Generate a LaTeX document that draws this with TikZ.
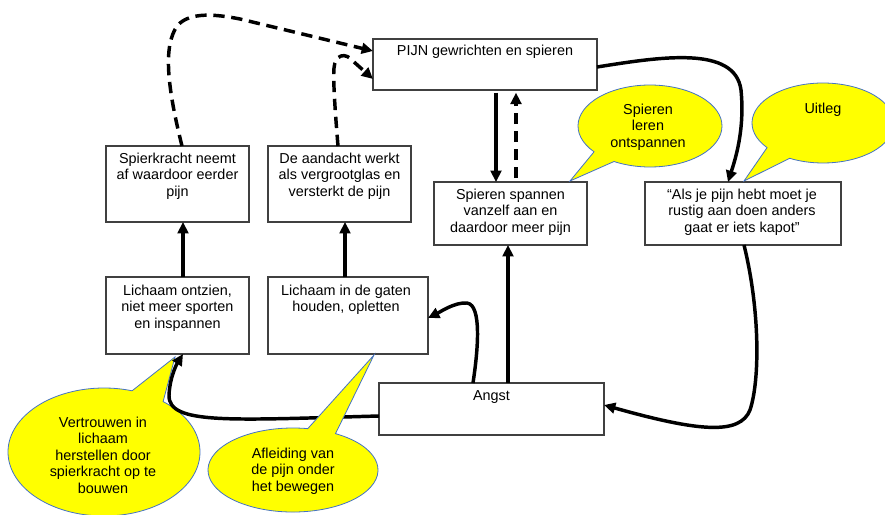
\documentclass[tikz,border=0pt]{standalone}
\usepackage{fontspec}
\setmainfont{Liberation Sans}
\usetikzlibrary{arrows.meta,calc}
\definecolor{callfill}{RGB}{255,255,0}
\definecolor{callline}{RGB}{68,114,196}
\definecolor{boxline}{RGB}{64,64,64}
\begin{document}
\begin{tikzpicture}[x=0.75pt,y=0.75pt,
  box/.style={draw=boxline,line width=0.9pt,fill=white,inner sep=0pt,outer sep=0pt},
  txt/.style={align=center,inner sep=0pt,font=\fontsize{10.8}{12.4}\selectfont},
  conn/.style={line width=2.6pt,-{Triangle[length=8.5pt,width=8pt]}},
  dconn/.style={conn,dash pattern=on 8.5pt off 5pt},
  callout/.style={fill=callfill,draw=callline,line width=0.6pt,line join=miter}]
\useasboundingbox (0,0) rectangle (885,-514);

% boxes
\node[box,minimum width=168pt,minimum height=38.25pt] (pijn) at (485,-64.5) {};
\node[box,minimum width=107.25pt,minimum height=57pt] (spk) at (177.5,-184) {};
\node[box,minimum width=107.25pt,minimum height=57pt] (aan) at (339.5,-184) {};
\node[box,minimum width=114.75pt,minimum height=47.25pt] (spa) at (510.5,-213.5) {};
\node[box,minimum width=147pt,minimum height=47.25pt] (als) at (743,-213.5) {};
\node[box,minimum width=107.25pt,minimum height=57.75pt] (ont) at (177.5,-315.5) {};
\node[box,minimum width=120pt,minimum height=57.75pt] (gat) at (348,-315.5) {};
\node[box,minimum width=168.75pt,minimum height=39pt] (angst) at (491.5,-409) {};

% callout Vertrouwen (behind connectors)
\coordinate (vc) at (104,-452);
\coordinate (vt) at (175,-357);
\draw[callout] ([shift={(73:72pt and 48pt)}]vc) -- (vt) -- ([shift={(52:72pt and 48pt)}]vc)
  arc[start angle=52,end angle=-287,x radius=72pt,y radius=48pt] -- cycle;

% connectors
\draw[conn,shorten <=2pt] ([xshift=8.25pt]pijn.south) -- ([xshift=8.25pt]pijn.south |- spa.north);
\draw[dconn,shorten <=3pt,shorten >=2pt] ([xshift=23.25pt]pijn.south |- spa.north) -- ([xshift=23.25pt]pijn.south);
\draw[conn] ([xshift=4.125pt]ont.north) -- ([xshift=4.125pt]ont.north |- spk.south);
\draw[conn] ([xshift=-2.25pt]gat.north) -- ([xshift=-2.25pt]gat.north |- aan.south);
\draw[conn] ([xshift=12.375pt]angst.north) -- ([xshift=12.375pt]angst.north |- spa.south);
\draw[dconn] ([xshift=3.375pt]spk.north) .. controls (168,-90) and (162,-45) .. (178,-25)
  .. controls (190,-12) and (215,-14) .. (240,-19) -- ([yshift=10.125pt]pijn.west);
\draw[dconn] ([xshift=-1.125pt]aan.north) .. controls (335,-110) and (333,-80) .. (334,-68)
  .. controls (335,-55) and (345,-51) .. (354,-62) -- ([yshift=-10.875pt]pijn.west);
\draw[conn] ([yshift=-1.875pt]pijn.east) .. controls (660,-57) and (735,-45) .. (741,-90)
  .. controls (745,-130) and (735,-160) .. ([xshift=-11.25pt]als.north);
\draw[conn] ([xshift=0.75pt]als.south) .. controls (760,-310) and (760,-380) .. (750,-410)
  .. controls (740,-435) and (700,-432) .. ([yshift=3pt]angst.east);
\draw[conn] ([xshift=-13.875pt]angst.north) .. controls (478,-350) and (482,-305) .. (467,-303)
  .. controls (455,-302) and (440,-312) .. ([yshift=-1.875pt]gat.east);
\draw[conn] ([yshift=-5.25pt]angst.west) .. controls (230,-420) and (168,-425) .. (169,-395)
  .. controls (170,-375) and (178,-362) .. ([xshift=4.125pt]ont.south);

% other callouts
\coordinate (ac) at (293,-470);
\coordinate (at) at (374,-355);
\draw[callout] ([shift={(80:63.75pt and 31.5pt)}]ac) -- (at) -- ([shift={(60:63.75pt and 31.5pt)}]ac)
  arc[start angle=60,end angle=-280,x radius=63.75pt,y radius=31.5pt] -- cycle;
\coordinate (sc) at (650,-126);
\coordinate (st) at (570,-181);
\draw[callout] ([shift={(240:54pt and 30.75pt)}]sc) -- (st) -- ([shift={(219:54pt and 30.75pt)}]sc)
  arc[start angle=219,end angle=-120,x radius=54pt,y radius=30.75pt] -- cycle;
\coordinate (uc) at (823,-123);
\coordinate (ut) at (744,-181);
\draw[callout] ([shift={(242:53.25pt and 30pt)}]uc) -- (ut) -- ([shift={(218:53.25pt and 30pt)}]uc)
  arc[start angle=218,end angle=-118,x radius=53.25pt,y radius=30pt] -- cycle;

% texts
\node[txt] (tpijn) at (485,-52) {PIJN gewrichten en spieren};
\node[txt] (tspk) at (177.5,-176) {Spierkracht neemt\\af waardoor eerder\\pijn};
\node[txt] (taan) at (339.5,-176) {De aandacht werkt\\als vergrootglas en\\versterkt de pijn};
\node[txt] (tspa) at (510.5,-212) {Spieren spannen\\vanzelf aan en\\daardoor meer pijn};
\node[txt] (tals) at (742,-212) {“Als je pijn hebt moet je\\rustig aan doen anders\\gaat er iets kapot”};
\node[txt] (tont) at (177.5,-308) {Lichaam ontzien,\\niet meer sporten\\en inspannen};
\node[txt] (tgat) at (346,-300) {Lichaam in de gaten\\houden, opletten};
\node[txt] (tangst) at (491.5,-397) {Angst};
\node[txt] (tsc) at (648,-127) {Spieren\\leren\\ontspannen};
\node[txt] (tuc) at (823,-110) {Uitleg};
\node[txt] (tvc) at (103,-455) {Vertrouwen in\\lichaam\\herstellen door\\spierkracht op te\\bouwen};
\node[txt] (tac) at (293,-471) {Afleiding van\\de pijn onder\\het bewegen};
\end{tikzpicture}
\end{document}
